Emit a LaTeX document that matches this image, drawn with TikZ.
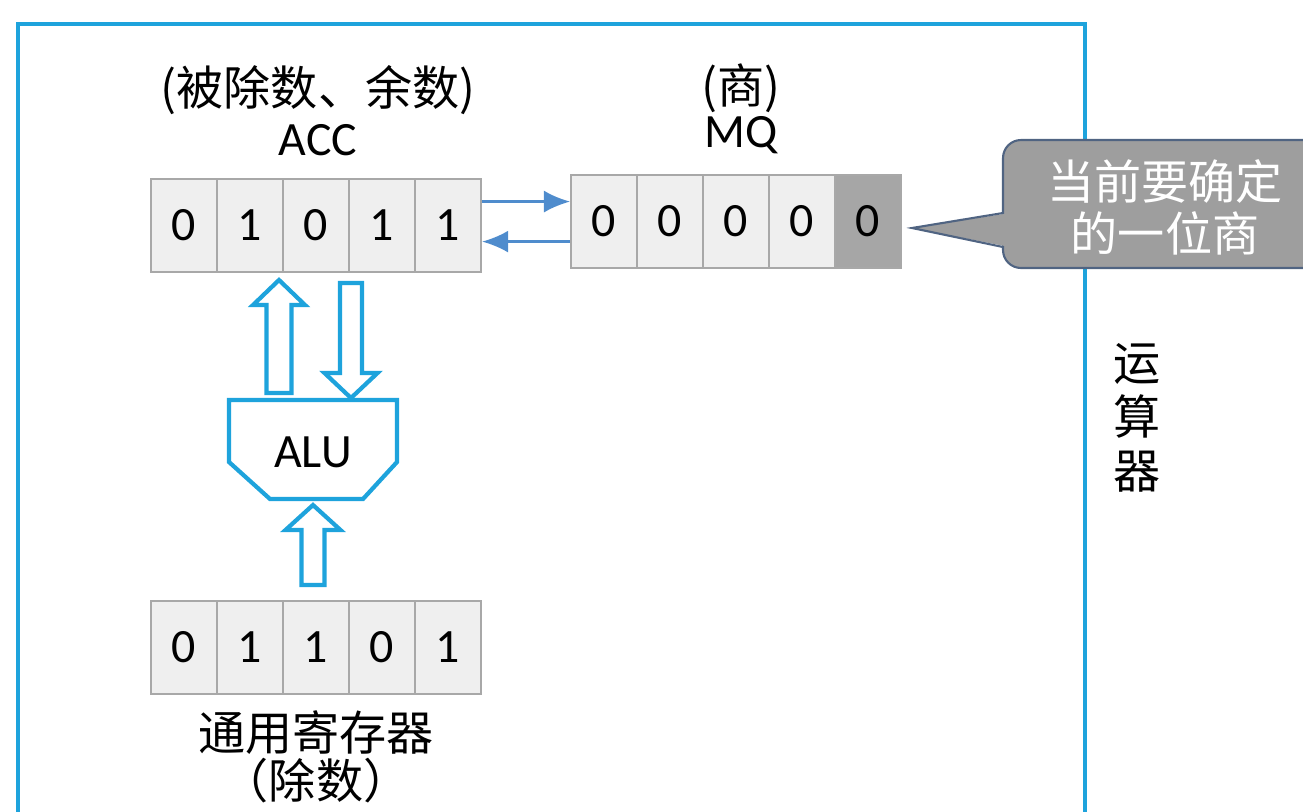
\documentclass[tikz,border=0pt]{standalone}
\usepackage{fontspec}
\setmainfont{Carlito}
\newfontfamily\cjk{Noto Sans CJK SC}
\usetikzlibrary{arrows.meta,calc}
\definecolor{frameblue}{RGB}{30,163,220}
\definecolor{cellfill}{RGB}{239,239,239}
\definecolor{cellline}{RGB}{168,168,168}
\definecolor{darkcell}{RGB}{166,166,166}
\definecolor{linkblue}{RGB}{79,140,205}
\definecolor{callfill}{RGB}{158,158,158}
\definecolor{callline}{RGB}{80,100,130}
\newcommand\blockarrow[5]{%
  \draw[blk] let \p1=(#1),\p2=(#2),\n1={sign(\y2-\y1)} in
   ({\x1-#3},\y1) -- ({\x1-#3},{\y2-(\n1)*(#5)}) -- ({\x1-#4},{\y2-(\n1)*(#5)})
   -- (\x1,\y2) -- ({\x1+#4},{\y2-(\n1)*(#5)}) -- ({\x1+#3},{\y2-(\n1)*(#5)})
   -- ({\x1+#3},\y1) -- cycle;}
\begin{document}
\begin{tikzpicture}[x=0.01cm,y=-0.01cm,
  txt/.style={font=\fontsize{13.6}{16}\selectfont, inner sep=0pt},
  cjktxt/.style={font=\cjk\fontsize{13.4}{15}\selectfont, inner sep=0pt},
  cell/.style={draw=cellline, line width=0.6pt, fill=cellfill, minimum width=0.66cm,
    minimum height=0.93cm, inner sep=0pt, anchor=north west, txt},
  link/.style={draw=linkblue, line width=0.7pt, -{Latex[length=2.6mm,width=2.2mm]}},
  frame/.style={draw=frameblue, line width=1.2pt},
  blk/.style={draw=frameblue, line width=1.2pt, fill=white, line join=miter}]
\useasboundingbox (0,0) rectangle (1303,811);
\clip (0,0) rectangle (1303,811);
% outer frame
\draw[frame] (18,830) -- (18,24) -- (1085,24) -- (1085,830);
% ACC register
\foreach \v [count=\i] in {0,1,0,1,1}
  \node[cell] (acc\i) at ({150+(\i-1)*66},178) {\v};
% MQ register
\foreach \i in {1,...,4}
  \node[cell] (mq\i) at ({570+(\i-1)*66},174) {0};
\node[cell, fill=darkcell] (mq5) at (834,174) {0};
% divisor register
\foreach \v [count=\i] in {0,1,1,0,1}
  \node[cell] (gr\i) at ({150+(\i-1)*66},600) {\v};
% labels
\node[cjktxt] (acclab) at (318,90) {(被除数、余数)};
\node[txt] (accname) at (318,140) {ACC};
\node[cjktxt] (mqlab) at (741,88) {(商)};
\node[txt] (mqname) at (741,135) {MQ};
\node[cjktxt] (grname) at (316,733) {通用寄存器};
\node[cjktxt] (grlab) at (316,781) {（除数）};
\node[cjktxt, align=center, font=\cjk\fontsize{13.4}{15.4}\selectfont] (yunsuan) at (1137,418) {运\\算\\器};
% links between ACC and MQ
\coordinate (r1) at ([yshift=0.24cm]acc5.east);
\coordinate (r2) at ([yshift=-0.16cm]acc5.east);
\draw[link] (r1) -- (r1 -| mq1.west);
\draw[link] (r2 -| mq1.west) -- (r2);
% ALU
\draw[blk] (229,400) -- (397,400) -- (397,462) -- (363,499) -- (270,499) -- (229,462) -- cycle;
\node[txt] (alu) at (313,452) {ALU};
% block arrows
\coordinate (u1b) at (279,393); \coordinate (u1t) at (279,280);
\coordinate (d1b) at (351,283); \coordinate (d1t) at (351,398);
\coordinate (u2b) at (313,585); \coordinate (u2t) at (313,505);
\blockarrow{u1b}{u1t}{0.125cm}{0.26cm}{0.25cm}
\blockarrow{d1b}{d1t}{0.11cm}{0.265cm}{0.25cm}
\blockarrow{u2b}{u2t}{0.115cm}{0.275cm}{0.25cm}
% callout
\draw[fill=callfill, draw=callline, line width=0.6pt, rounded corners=0.18cm]
  (1003,140) rectangle (1340,268);
\fill[callfill] (1010,213) -- (912,228) -- (1010,247) -- cycle;
\draw[callline, line width=0.6pt] (1003,213) -- (912,228) -- (1003,247);
\node[cjktxt, text=white, align=center, font=\cjk\fontsize{13.4}{14.8}\selectfont] (note) at (1165,207) {当前要确定\\的一位商};
\end{tikzpicture}
\end{document}
